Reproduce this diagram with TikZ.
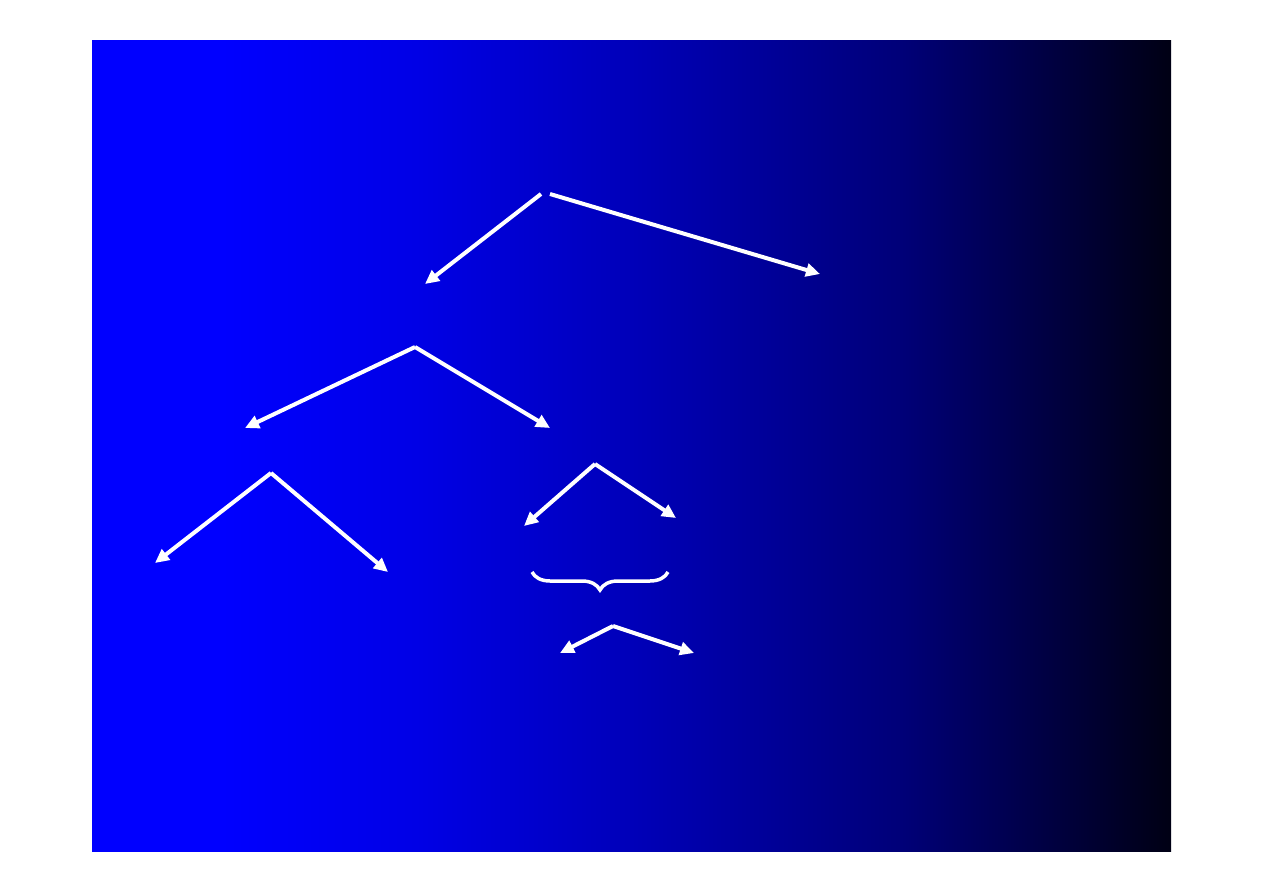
\documentclass[tikz,border=0pt]{standalone}
\usetikzlibrary{arrows.meta,decorations.pathreplacing}
\definecolor{g1}{RGB}{0,0,230}
\definecolor{g2}{RGB}{0,0,185}
\definecolor{g3}{RGB}{0,0,120}
\definecolor{g4}{RGB}{0,0,20}
\pgfdeclarehorizontalshading{bgshade}{100bp}{color(0bp)=(blue); color(31bp)=(blue); color(40bp)=(g1); color(50bp)=(g2); color(62.5bp)=(g3); color(75bp)=(g4); color(100bp)=(g4)}
\tikzset{
  arr/.style={draw=white, line width=4pt, -{Triangle[length=14pt,width=13pt]}},
  brc/.style={draw=white, line width=3.5pt, decorate, decoration={brace, mirror, amplitude=18pt, aspect=0.5}}
}
\begin{document}
\begin{tikzpicture}[x=1pt,y=-1pt]
\useasboundingbox (0,0) rectangle (1263,893);
\fill[white] (0,0) rectangle (1263,893);
\shade[shading=bgshade] (92,41) rectangle (1171,851);
% coordinates
\coordinate (r1) at (541,194);
\coordinate (r2) at (550,194);
\coordinate (a) at (425,284);
\coordinate (b) at (820,274);
\coordinate (a0) at (415,347);
\coordinate (aL) at (245,428);
\coordinate (aR) at (550,428);
\coordinate (l0) at (271,473);
\coordinate (lL) at (155,563);
\coordinate (lR) at (388,572);
\coordinate (m0) at (595,464);
\coordinate (mL) at (524,526);
\coordinate (mR) at (676,518);
\coordinate (bl) at (532,572);
\coordinate (br) at (668,572);
\coordinate (n0) at (613,626);
\coordinate (nL) at (560,653);
\coordinate (nR) at (694,653);
% arrows
\draw[arr] (r1) -- (a);
\draw[arr] (r2) -- (b);
\draw[arr] (a0) -- (aL);
\draw[arr] (a0) -- (aR);
\draw[arr] (l0) -- (lL);
\draw[arr] (l0) -- (lR);
\draw[arr] (m0) -- (mL);
\draw[arr] (m0) -- (mR);
\draw[brc] (bl) -- (br);
\draw[arr] (n0) -- (nL);
\draw[arr] (n0) -- (nR);
\end{tikzpicture}
\end{document}
